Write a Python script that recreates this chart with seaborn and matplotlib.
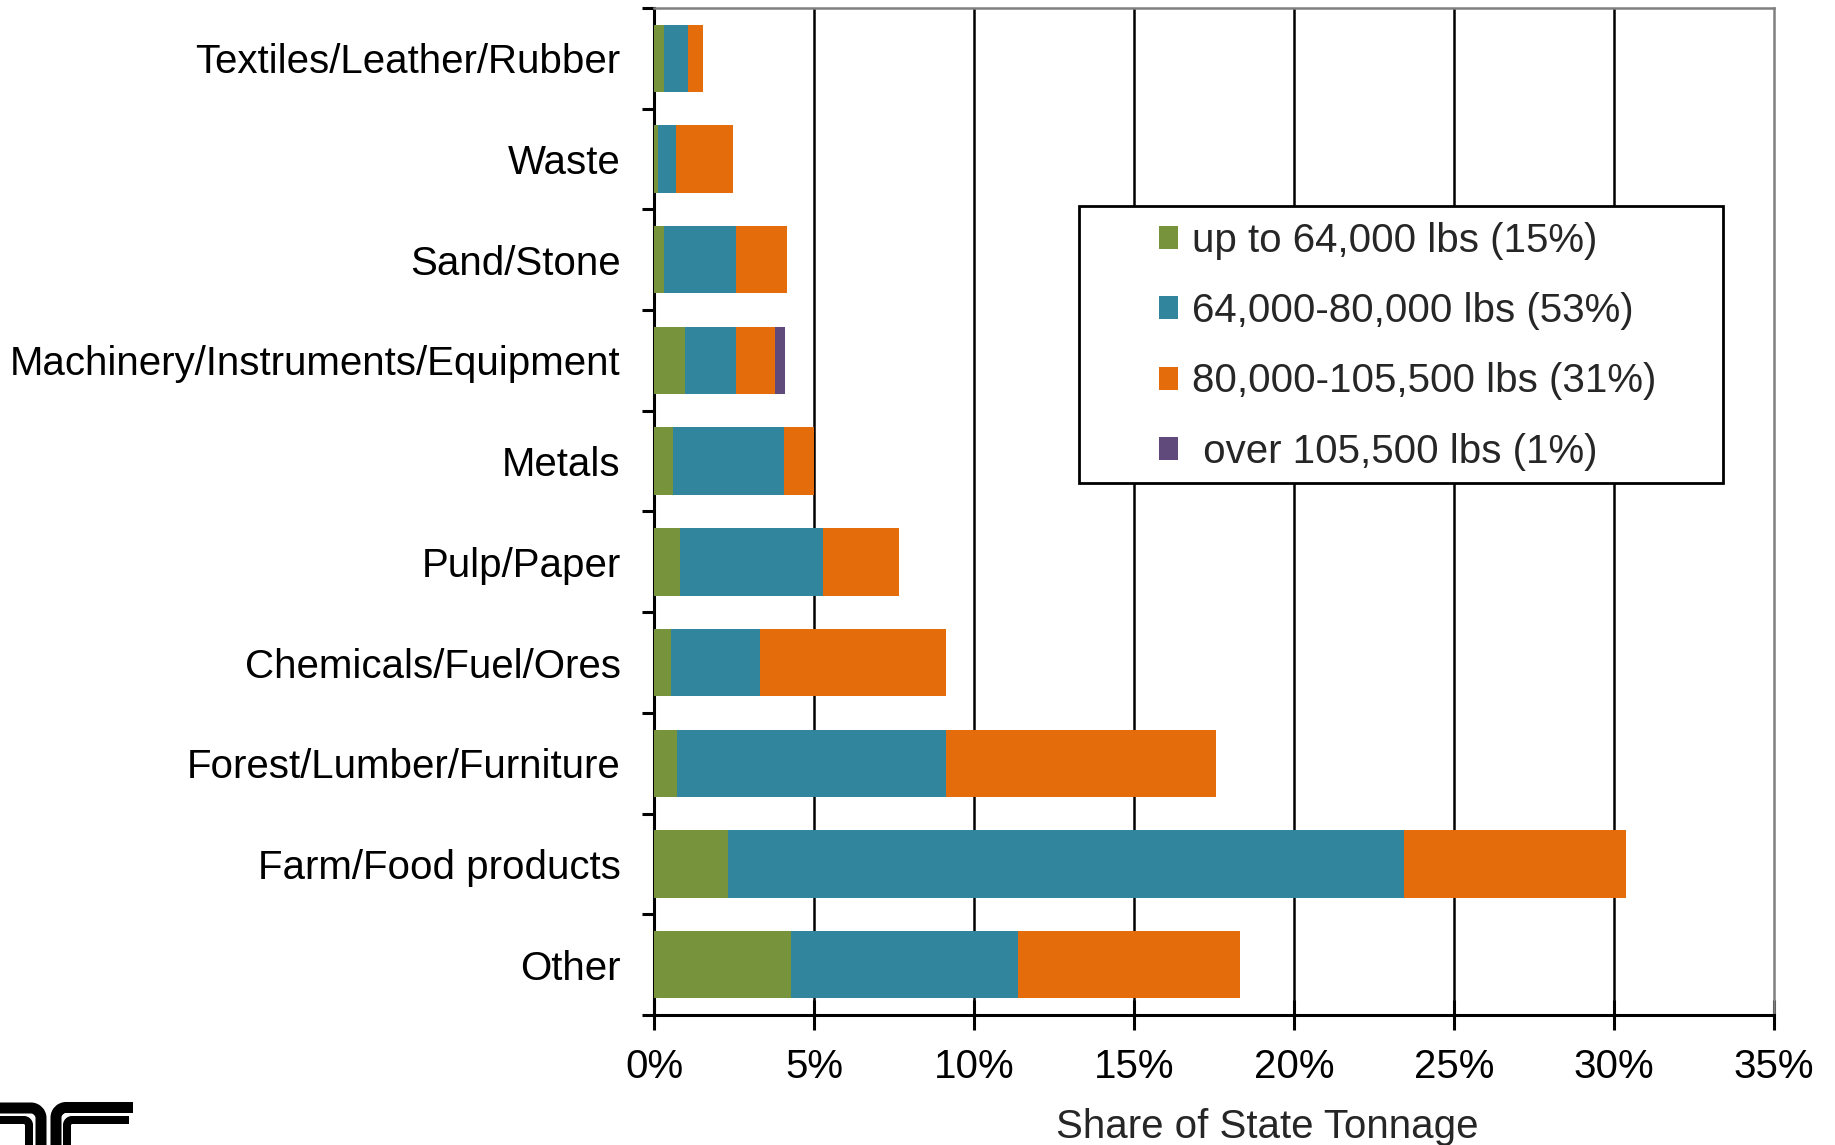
import numpy as np
import pandas as pd
import matplotlib
matplotlib.use("Agg")
import matplotlib.pyplot as plt
from matplotlib.patches import Patch, Rectangle, PathPatch
from matplotlib.path import Path
import seaborn as sns

# Commodity groups, top to bottom
categories = [
    "Textiles/Leather/Rubber",
    "Waste",
    "Sand/Stone",
    "Machinery/Instruments/Equipment",
    "Metals",
    "Pulp/Paper",
    "Chemicals/Fuel/Ores",
    "Forest/Lumber/Furniture",
    "Farm/Food products",
    "Other",
]

# Share of state tonnage (%) by gross vehicle weight class
up_to_64k = [0.31, 0.11, 0.31, 0.98, 0.60, 0.81, 0.52, 0.72, 2.30, 4.27]
from_64k_to_80k = [0.75, 0.58, 2.25, 1.58, 3.46, 4.46, 2.78, 8.39, 21.13, 7.09]
from_80k_to_105k = [0.47, 1.79, 1.61, 1.22, 0.95, 2.38, 5.83, 8.44, 6.94, 6.95]
over_105k = [0.00, 0.00, 0.00, 0.31, 0.00, 0.00, 0.00, 0.00, 0.00, 0.00]

series_labels = [
    "up to 64,000 lbs (15%)",
    "64,000-80,000 lbs (53%)",
    "80,000-105,500 lbs (31%)",
    " over 105,500 lbs (1%)",
]
series_colors = ["#77933C", "#31859C", "#E46C0A", "#604A7B"]

x_ticks = [0, 5, 10, 15, 20, 25, 30, 35]
x_tick_labels = ["0%", "5%", "10%", "15%", "20%", "25%", "30%", "35%"]
x_title = "Share of State Tonnage"

segments = np.array([up_to_64k, from_64k_to_80k, from_80k_to_105k, over_105k])
cumulative = np.cumsum(segments, axis=0)

sns.set_style("white")
plt.rcParams["font.family"] = ["Liberation Sans", "DejaVu Sans"]

W, H = 1835, 1145
fig = plt.figure(figsize=(W / 100, H / 100), dpi=100)
ax_left, ax_right, ax_top, ax_bottom = 654, 1774, 8, 1015
ax = fig.add_axes([ax_left / W, 1 - ax_bottom / H,
                   (ax_right - ax_left) / W, (ax_bottom - ax_top) / H])

# Stacked bars: draw running totals from the outermost layer inwards
for i in reversed(range(len(series_labels))):
    keep = segments[i] > 0
    layer = pd.DataFrame({
        "category": np.array(categories)[keep],
        "total": cumulative[i][keep],
    })
    sns.barplot(data=layer, x="total", y="category", order=categories,
                orient="h", color=series_colors[i], saturation=1,
                width=0.67, errorbar=None, linewidth=0, ax=ax, zorder=3)

ax.set_xlim(0, 35)
ax.set_ylim(9.5, -0.5)
ax.set_xticks(x_ticks)
ax.set_xticklabels(x_tick_labels, fontsize=29)
ax.set_yticks(range(len(categories)))
ax.set_yticklabels(categories, fontsize=29)
ax.set_yticks(np.arange(-0.5, len(categories)), minor=True)
ax.set_ylabel("")
ax.set_xlabel(x_title, fontsize=29)
ax.xaxis.set_label_coords((1267 - ax_left) / (ax_right - ax_left), -0.092)

ax.tick_params(axis="y", which="major", length=0, pad=24, colors="black")
ax.tick_params(axis="y", which="minor", direction="out", length=8.6,
               width=2.2, color="black", left=True)
ax.tick_params(axis="x", which="major", direction="inout", length=22,
               width=2.2, color="black", bottom=True, pad=12.5, labelcolor="black")

ax.set_axisbelow(True)
ax.grid(axis="x", color="black", linewidth=1.8)
ax.grid(axis="y", visible=False)
gl = ax.xaxis.get_gridlines()
gl[0].set_visible(False)
gl[-1].set_visible(False)

for side in ("left", "bottom"):
    ax.spines[side].set_color("black")
    ax.spines[side].set_linewidth(2.2)
for side in ("top", "right"):
    ax.spines[side].set_color("#808080")
    ax.spines[side].set_linewidth(1.8)

# Legend box and entries
ax.add_patch(Rectangle((1079 / W, 1 - 483 / H), (1723 - 1079) / W, (483 - 206) / H,
                       transform=fig.transFigure, facecolor="white",
                       edgecolor="black", linewidth=2.0, zorder=4, clip_on=False))
handles = [Patch(facecolor=c, edgecolor="none") for c in series_colors]
leg = ax.legend(handles, series_labels, loc="upper left",
                bbox_to_anchor=(1159 / W, 1 - 222 / H), bbox_transform=fig.transFigure,
                frameon=False, fontsize=29, handlelength=0.48, handleheight=0.5,
                handletextpad=0.33, labelspacing=0.8, borderpad=0, borderaxespad=0)
leg.set_zorder(5)

# Corner logo drawn in pixel space
logo = fig.add_axes([0, 0, 1, 1], zorder=-1)
logo.set_xlim(0, W)
logo.set_ylim(H, 0)
logo.axis("off")
logo.patch.set_visible(False)


def band(points, width_px):
    verts = [p[0] for p in points]
    codes = [p[1] for p in points]
    logo.add_patch(PathPatch(Path(verts, codes), fill=False, edgecolor="black",
                             linewidth=width_px * 72 / 100, capstyle="butt",
                             joinstyle="round"))


M, L, C = Path.MOVETO, Path.LINETO, Path.CURVE4
k = 0.552
# right rails
r = 10
band([((56, 1150), M), ((56, 1117.5), L), ((56, 1117.5 - k * r), C),
      ((66 - k * r, 1107.5), C), ((66, 1107.5), C), ((133, 1107.5), L)], 11)
r = 5
band([((67, 1150), M), ((67, 1125), L), ((67, 1125 - k * r), C),
      ((72 - k * r, 1120), C), ((72, 1120), C), ((129, 1120), L)], 8)
# left rails
r = 10
band([((-5, 1108), M), ((31, 1108), L), ((31 + k * r, 1108), C),
      ((41, 1118 - k * r), C), ((41, 1118), C), ((41, 1150), L)], 11)
r = 5
band([((-5, 1120), M), ((24, 1120), L), ((24 + k * r, 1120), C),
      ((29, 1125 - k * r), C), ((29, 1125), C), ((29, 1150), L)], 8)

fig.savefig("out.png", dpi=100)
